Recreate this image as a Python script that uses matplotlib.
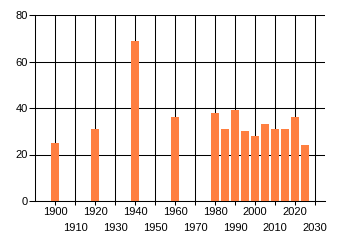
import numpy as np
import matplotlib
matplotlib.use("Agg")
import matplotlib.pyplot as plt

years = [1900, 1920, 1940, 1960, 1980, 1985, 1990, 1995, 2000, 2005, 2010, 2015, 2020, 2025]
values = [25, 31, 69, 36, 38, 31, 39, 30, 28, 33, 31, 31, 36, 24]
row1_ticks = [1900, 1920, 1940, 1960, 1980, 2000, 2020]
row2_ticks = [1910, 1930, 1950, 1970, 1990, 2010, 2030]
y_ticks = [0, 20, 40, 60, 80]

plt.rcParams['font.family'] = ['Liberation Sans', 'DejaVu Sans']
plt.rcParams['font.size'] = 8

fig = plt.figure(figsize=(3.4, 2.45), dpi=100)
ax = fig.add_axes([35 / 340, 1 - 201 / 245, 290 / 340, 186 / 245])

ax.bar(years, values, width=4, color='#FF7F40', zorder=3)

ax.set_xlim(1890, 2035)
ax.set_ylim(0, 80)
ax.set_yticks(y_ticks)
ax.set_xticks(row1_ticks)
ax.set_xticks(row2_ticks, minor=True)
ax.set_xticklabels([str(t) for t in row1_ticks])
ax.set_xticklabels([str(t) for t in row2_ticks], minor=True)

lw = 0.75
ax.grid(True, which='both', color='black', linewidth=lw, zorder=1)
ax.set_axisbelow(True)
ax.tick_params(axis='x', which='major', length=3, width=lw, pad=1.5, colors='black')
ax.tick_params(axis='x', which='minor', length=3, width=lw, pad=12.5, colors='black')
ax.tick_params(axis='y', length=4, width=lw, pad=1, colors='black')

for s in ['top', 'right']:
    ax.spines[s].set_visible(False)
for s in ['left', 'bottom']:
    ax.spines[s].set_linewidth(lw)
    ax.spines[s].set_color('black')

fig.savefig('out.png', dpi=100)
